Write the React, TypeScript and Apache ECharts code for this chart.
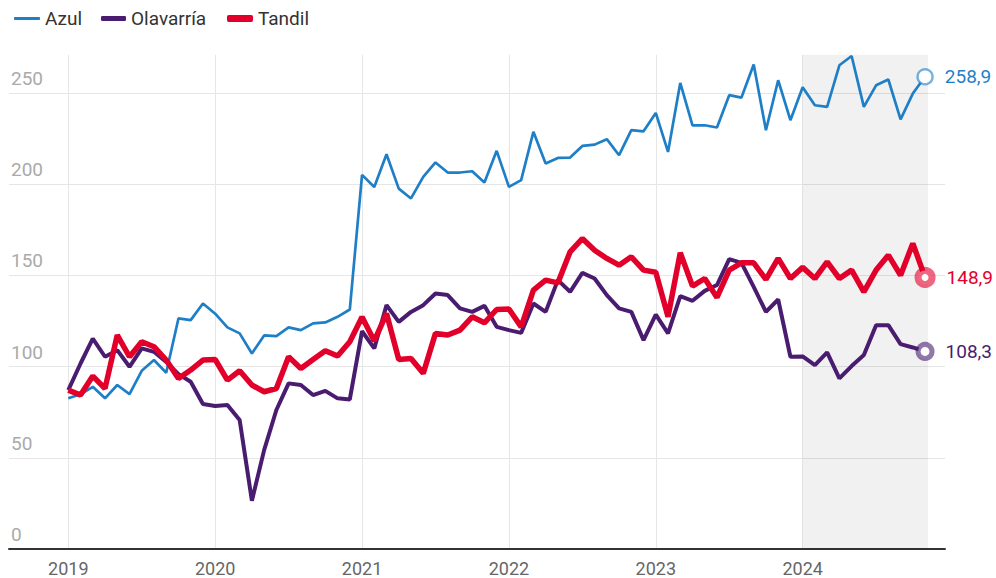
import React, { useEffect, useRef } from "react";
import * as echarts from "echarts";

const yearLabels = ["2019", "2020", "2021", "2022", "2023", "2024"];

const azul = [
  82.6, 84.8, 88.9, 82.6, 89.9, 84.9, 97.7, 103.6, 96.6, 126.4, 125.5, 134.6,
  129, 121.5, 118.2, 107.2, 117.1, 116.7, 121.5, 120, 123.7, 124.2, 127.3, 131.3,
  205.1, 198.5, 216.4, 197.6, 192.2, 204, 211.9, 206.4, 206.4, 207.1, 200.9, 218.3,
  198.5, 202.2, 228.7, 211.3, 214.4, 214.6, 221, 221.7, 224.7, 215.9, 229.6, 229,
  239.1, 217.7, 255.5, 232.3, 232.3, 231.1, 248.8, 247.5, 265.6, 229.6, 257, 235.1,
  253.2, 243.3, 242.4, 265.2, 270.3, 242.4, 254.2, 257.4, 235.5, 249.7, 258.9,
];

const olavarria = [
  87.1, 101.7, 115.4, 105.4, 109, 99.9, 110, 108.1, 102.6, 95.9, 91.7, 79.5,
  78.4, 78.9, 70.7, 26.5, 54.2, 76.2, 90.8, 89.9, 84.4, 86.7, 82.6, 82,
  119.4, 110, 133.7, 124.5, 130, 133.7, 140.1, 139.2, 131.9, 130, 133.3, 121.8,
  120, 118.5, 134.6, 130, 147.4, 141, 151.4, 148.3, 139.2, 131.9, 130, 114.5,
  128.5, 118.2, 138.6, 136.1, 141.5, 144.7, 158.9, 156.9, 143.7, 130, 136.8, 105.4,
  105.6, 100.8, 107.8, 93.5, 100.3, 106.3, 122.7, 122.7, 112.3, 110.5, 108.3,
];

const tandil = [
  87.1, 84.4, 94.8, 88, 117.3, 105.4, 113.6, 110.9, 103.6, 93.5, 98.1, 103.6,
  103.9, 92.6, 97.7, 89.9, 86.2, 88, 105.4, 99, 103.9, 108.7, 105.8, 113.6,
  127.2, 114.1, 129.1, 103.9, 104.5, 96.3, 118.2, 117.3, 120, 127.3, 124, 131.3,
  131.6, 121.8, 141.9, 147.4, 145.9, 162.9, 170.2, 163.8, 159.3, 155.6, 160.2, 152.9,
  151.7, 127.3, 162.4, 144.1, 148.3, 137.9, 152.9, 156.9, 156.9, 147.8, 159.3, 148.3,
  154.4, 148.3, 157.4, 148.3, 152.9, 141, 152.9, 161.1, 150.1, 167.5, 148.9,
];

const COLORS = {
  Azul: "#1f7fc6",
  Olavarría: "#4a1c6f",
  Tandil: "#e2002b",
};

const toPairs = (arr: number[]) => arr.map((v, i) => [i, v]);
const fmt = (v: number) => String(v).replace(".", ",");

export default function App() {
  const ref = useRef<HTMLDivElement>(null);

  useEffect(() => {
    document.body.style.margin = "0";
    if (!ref.current) return;
    const chart = echarts.init(ref.current, null, { renderer: "svg" });
    const yearIdx = yearLabels.map((_, i) => i * 12);
    const lastI = azul.length - 1;
    const shadeStart = (yearLabels.length - 1) * 12;

    const endPoint = (
      name: string,
      arr: number[],
      color: string,
      ringColor: string,
      size: number,
      bw: number
    ) => ({
      type: "scatter",
      name: name + "-end",
      z: 5,
      symbol: "circle",
      symbolSize: size,
      silent: true,
      itemStyle: { color: "#fff", borderColor: ringColor, borderWidth: bw, opacity: 1 },
      label: {
        show: true,
        position: "right",
        distance: 11,
        formatter: (p: any) => fmt(p.value[1]),
        color,
        fontSize: 19,
        fontFamily: "Roboto",
      },
      data: [[lastI, arr[lastI]]],
    });

    const legendText = { fontSize: 19, color: "#333", fontFamily: "Roboto" };

    const option: any = {
      animation: false,
      textStyle: { fontFamily: "Roboto" },
      grid: { left: 9, right: 51, top: 54.7, bottom: 29 },
      legend: [
        {
          left: 9,
          top: 4,
          itemWidth: 26,
          itemHeight: 3,
          icon: "roundRect",
          data: ["Azul"],
          textStyle: legendText,
          selectedMode: false,
        },
        {
          left: 96,
          top: 4,
          itemWidth: 25,
          itemHeight: 5,
          icon: "roundRect",
          data: ["Olavarría"],
          textStyle: legendText,
          selectedMode: false,
        },
        {
          left: 222,
          top: 4,
          itemWidth: 26,
          itemHeight: 7,
          icon: "roundRect",
          data: ["Tandil"],
          textStyle: legendText,
          selectedMode: false,
        },
      ],
      xAxis: {
        type: "value",
        min: -4.845,
        max: 71.63,
        axisLine: { show: true, onZero: false, lineStyle: { color: "#333", width: 2 } },
        axisTick: { show: false, customValues: yearIdx },
        axisLabel: {
          customValues: yearIdx,
          formatter: (v: number) => yearLabels[Math.round(v / 12)] ?? "",
          fontSize: 18,
          lineHeight: 18,
          color: "#666",
          margin: 10,
        },
        splitLine: { show: true, lineStyle: { color: "#e6e6e6", width: 1 } },
      },
      yAxis: {
        type: "value",
        min: 0,
        max: 271,
        interval: 50,
        axisLine: { show: false },
        axisTick: { show: false },
        axisLabel: {
          inside: true,
          margin: 2,
          verticalAlign: "bottom",
          padding: [0, 0, 5, 0],
          showMaxLabel: false,
          color: "#aaa",
          fontSize: 19,
        },
        splitLine: { show: true, showMaxLine: false, lineStyle: { color: "#e6e6e6", width: 1 } },
      },
      series: [
        {
          type: "line",
          name: "Azul",
          data: toPairs(azul),
          showSymbol: false,
          clip: false,
          z: 3,
          color: COLORS.Azul,
          lineStyle: { width: 2.7, color: COLORS.Azul },
          markArea: {
            silent: true,
            itemStyle: { color: "rgba(0,0,0,0.055)" },
            data: [[{ xAxis: shadeStart, yAxis: 0 }, { xAxis: lastI + 0.25, yAxis: 271 }]],
          },
        },
        {
          type: "line",
          name: "Olavarría",
          data: toPairs(olavarria),
          showSymbol: false,
          clip: false,
          z: 3,
          color: COLORS.Olavarría,
          lineStyle: { width: 4, color: COLORS.Olavarría },
        },
        {
          type: "line",
          name: "Tandil",
          data: toPairs(tandil),
          showSymbol: false,
          clip: false,
          z: 4,
          color: COLORS.Tandil,
          lineStyle: { width: 5.5, color: COLORS.Tandil },
        },
        endPoint("Azul", azul, COLORS.Azul, "rgba(31,127,198,0.6)", 15, 2.5),
        endPoint("Olavarría", olavarria, COLORS.Olavarría, "rgba(74,28,111,0.6)", 14, 5),
        endPoint("Tandil", tandil, COLORS.Tandil, "rgba(226,0,43,0.6)", 14, 7),
      ],
    };
    chart.setOption(option);
    return () => chart.dispose();
  }, []);

  return <div ref={ref} style={{ width: 996, height: 578 }} />;
}
